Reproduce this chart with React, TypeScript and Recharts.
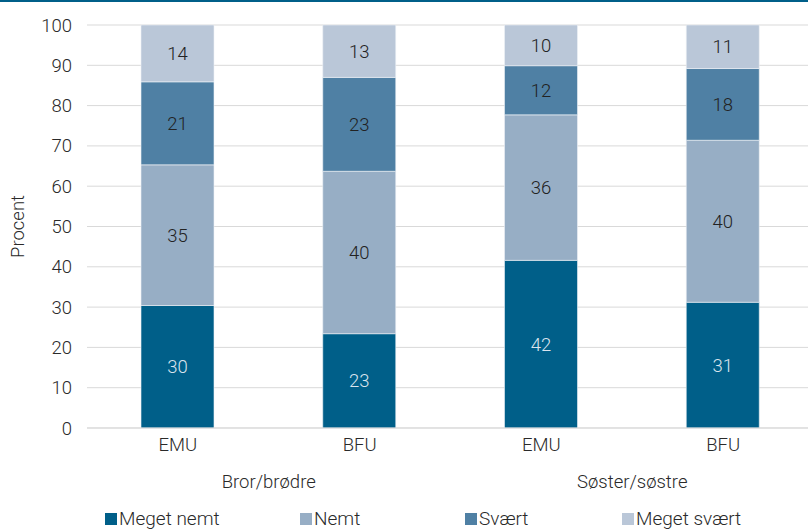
import React from "react";
import {
  BarChart,
  Bar,
  XAxis,
  YAxis,
  CartesianGrid,
  Legend,
  LabelList,
} from "recharts";

const categories = ["EMU", "BFU", "EMU", "BFU"];
const groups = ["Bror/brødre", "Bror/brødre", "Søster/søstre", "Søster/søstre"];
const megetNemt = [30.4, 23.4, 41.6, 31.2];
const nemt = [34.9, 40.3, 36.1, 40.2];
const svaert = [20.6, 23.3, 12.2, 17.8];
const megetSvaert = [14.1, 13.0, 10.1, 10.8];
const yTicks = [0, 10, 20, 30, 40, 50, 60, 70, 80, 90, 100];

const SERIES = [
  { key: "megetNemt", name: "Meget nemt", color: "#005f89", label: "#dbe4ee" },
  { key: "nemt", name: "Nemt", color: "#97aec5", label: "#222222" },
  { key: "svaert", name: "Svært", color: "#4f80a4", label: "#222222" },
  { key: "megetSvaert", name: "Meget svært", color: "#bac7d8", label: "#222222" },
];

const FONT = "Roboto, 'Noto Sans', sans-serif";
const TEXT = "#2a2a2a";
const FS = 18.5;

const data = categories.map((c, i) => ({
  cat: c,
  group: groups[i],
  megetNemt: megetNemt[i],
  nemt: nemt[i],
  svaert: svaert[i],
  megetSvaert: megetSvaert[i],
}));

const legendWidths = [195, 165, 157, 140];

function LegendBox() {
  return (
    <div
      style={{
        display: "flex",
        paddingLeft: 105,
        paddingTop: 11,
        fontFamily: FONT,
        fontWeight: 300,
        fontSize: 19,
        lineHeight: "20px",
        color: TEXT,
      }}
    >
      {SERIES.map((s, i) => (
        <div
          key={s.key}
          style={{ width: legendWidths[i], display: "flex", alignItems: "center" }}
        >
          <span
            style={{
              display: "inline-block",
              width: 12,
              height: 12,
              background: s.color,
              marginRight: 2,
            }}
          />
          <span>{s.name}</span>
        </div>
      ))}
    </div>
  );
}

export default function App() {
  const tickStyle = { fill: TEXT, fontSize: FS, fontFamily: FONT, fontWeight: 300 };
  return (
    <div style={{ width: 808, height: 531, background: "#fff", position: "relative" }}>
      <style>{`body{margin:0}`}</style>
      <div style={{ height: 2, background: "#005f89" }} />
      <BarChart
        width={808}
        height={529}
        data={data}
        margin={{ top: 23, right: -6, left: 0, bottom: 3 }}
        barSize={73}
      >
        <CartesianGrid vertical={false} stroke="#d9d9d9" />
        <YAxis
          domain={[0, 100]}
          ticks={yTicks}
          width={87}
          axisLine={false}
          tickLine={false}
          tickSize={0}
          tickMargin={15}
          tick={tickStyle}
          label={(props: any) => {
            const vb = props.viewBox;
            const cy = vb.y + vb.height / 2;
            return (
              <text
                x={24}
                y={cy}
                transform={`rotate(-90, 24, ${cy})`}
                textAnchor="middle"
                fill={TEXT}
                fontSize={FS}
                fontFamily={FONT}
                fontWeight={300}
              >
                Procent
              </text>
            );
          }}
        />
        <XAxis
          dataKey="cat"
          height={34}
          axisLine={{ stroke: "#d9d9d9" }}
          tickLine={false}
          tickSize={0}
          tickMargin={10}
          tick={tickStyle}
        />
        <XAxis
          xAxisId="group"
          dataKey="group"
          allowDuplicatedCategory={false}
          height={36}
          axisLine={false}
          tickLine={false}
          tickSize={0}
          tickMargin={13}
          tick={tickStyle}
        />
        <Legend verticalAlign="bottom" height={30} content={() => <LegendBox />} />
        {SERIES.map((s) => (
          <Bar
            key={s.key}
            dataKey={s.key}
            name={s.name}
            stackId="a"
            fill={s.color}
            stroke="#eef2f6"
            strokeWidth={0.6}
            isAnimationActive={false}
          >
            <LabelList
              dataKey={s.key}
              position="center"
              formatter={(v: any) => Math.round(Number(v))}
              fill={s.label}
              fontSize={FS}
              fontFamily={FONT}
              fontWeight={300}
            />
          </Bar>
        ))}
      </BarChart>
    </div>
  );
}
